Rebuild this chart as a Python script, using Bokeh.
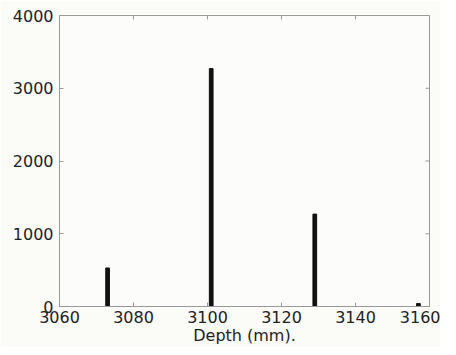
from bokeh.plotting import figure
from bokeh.models import Range1d, FixedTicker
from bokeh.embed import file_html
from bokeh.resources import INLINE

depth = [3073, 3101, 3129, 3157]
counts = [530, 3270, 1270, 40]
x_ticks = [3060, 3080, 3100, 3120, 3140, 3160]
y_ticks = [0, 1000, 2000, 3000, 4000]

x0, x1, y0, y1 = 3060, 3160, 0, 4000
p = figure(width=440, height=347, output_backend="svg", toolbar_location=None,
           x_range=Range1d(x0, x1), y_range=Range1d(y0, y1),
           min_border_left=59, min_border_right=11, min_border_top=15, min_border_bottom=40,
           background_fill_color="#fcfcfa", border_fill_color="#fbfbf8")
p.grid.visible = False
p.outline_line_color = "#999999"

p.vbar(x=depth, top=counts, width=1.0, color="#111111")

# inward ticks on top and right edges of the box
tx = [t for t in x_ticks[1:-1]]
p.segment(x0=tx, y0=[y1] * len(tx), x1=tx, y1=[y1 - 55] * len(tx), line_color="#999999", line_width=1)
ty = [t for t in y_ticks[1:-1]]
p.segment(x0=[x1] * len(ty), y0=ty, x1=[x1 - 1.1] * len(ty), y1=ty, line_color="#999999", line_width=1)

font = "DejaVu Sans"
for ax in p.xaxis:
    ax.ticker = FixedTicker(ticks=x_ticks)
    ax.axis_label = "Depth (mm)."
for ax in p.yaxis:
    ax.ticker = FixedTicker(ticks=y_ticks)
for ax in p.xaxis + p.yaxis:
    ax.axis_line_color = "#999999"
    ax.major_tick_line_color = "#999999"
    ax.major_tick_in = 4
    ax.major_tick_out = 0
    ax.minor_tick_line_color = None
    ax.major_label_text_font = font
    ax.major_label_text_font_size = "16px"
    ax.major_label_text_color = "#222222"
    ax.axis_label_text_font = font
    ax.axis_label_text_font_size = "16px"
    ax.axis_label_text_font_style = "normal"
    ax.axis_label_text_color = "#222222"
p.xaxis.major_label_standoff = 4
p.xaxis.axis_label_standoff = 0
p.yaxis.major_label_standoff = 6

open("out.html", "w").write(file_html(p, INLINE))
